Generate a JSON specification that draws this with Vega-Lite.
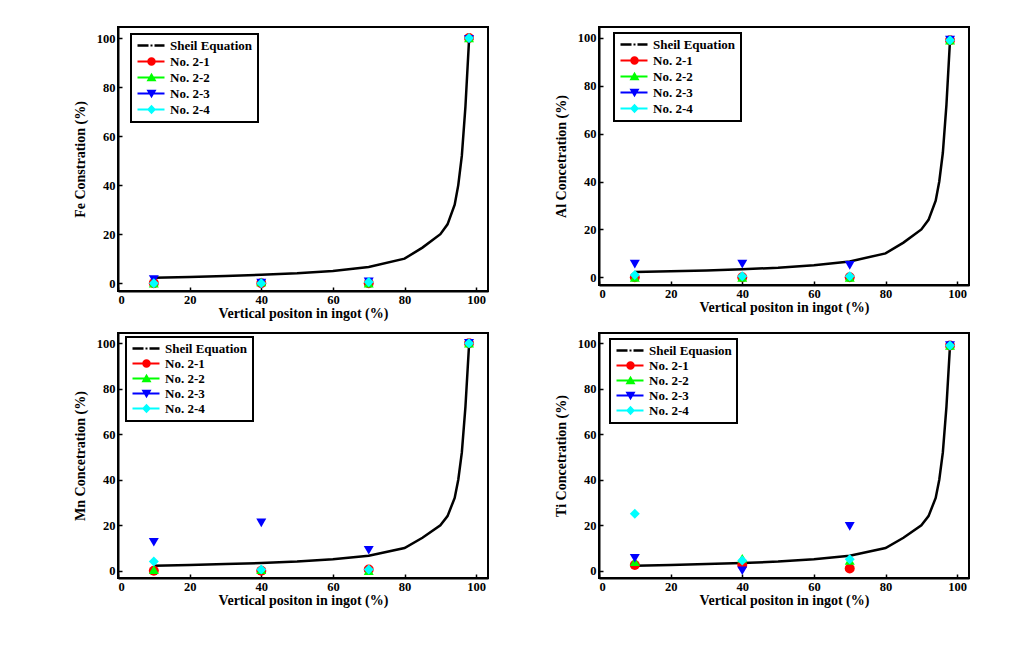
{
  "$schema": "https://vega.github.io/schema/vega-lite/v6.json",
  "background": "white",
  "padding": {"left": 72, "top": 26, "right": 5, "bottom": 5},
  "datasets": {
    "curve": [
      {"series": "Sheil Equation", "x": 10, "y": 2.2},
      {"series": "Sheil Equation", "x": 20, "y": 2.5},
      {"series": "Sheil Equation", "x": 30, "y": 2.9},
      {"series": "Sheil Equation", "x": 40, "y": 3.4},
      {"series": "Sheil Equation", "x": 50, "y": 4.0},
      {"series": "Sheil Equation", "x": 60, "y": 5.0},
      {"series": "Sheil Equation", "x": 70, "y": 6.6},
      {"series": "Sheil Equation", "x": 80, "y": 10},
      {"series": "Sheil Equation", "x": 85, "y": 14.5},
      {"series": "Sheil Equation", "x": 90, "y": 20},
      {"series": "Sheil Equation", "x": 92, "y": 24},
      {"series": "Sheil Equation", "x": 94, "y": 32},
      {"series": "Sheil Equation", "x": 95, "y": 40},
      {"series": "Sheil Equation", "x": 96, "y": 52},
      {"series": "Sheil Equation", "x": 97, "y": 72},
      {"series": "Sheil Equation", "x": 98, "y": 99}
    ],
    "pts": [
      {"el": "Fe", "series": "No. 2-1", "x": 10, "y": 0},
      {"el": "Fe", "series": "No. 2-1", "x": 40, "y": 0},
      {"el": "Fe", "series": "No. 2-1", "x": 70, "y": 0},
      {"el": "Fe", "series": "No. 2-1", "x": 98, "y": 100},
      {"el": "Fe", "series": "No. 2-2", "x": 10, "y": 0},
      {"el": "Fe", "series": "No. 2-2", "x": 40, "y": 0.5},
      {"el": "Fe", "series": "No. 2-2", "x": 70, "y": 0},
      {"el": "Fe", "series": "No. 2-2", "x": 98, "y": 100},
      {"el": "Fe", "series": "No. 2-3", "x": 10, "y": 1.5},
      {"el": "Fe", "series": "No. 2-3", "x": 40, "y": 0},
      {"el": "Fe", "series": "No. 2-3", "x": 70, "y": 0.5},
      {"el": "Fe", "series": "No. 2-3", "x": 98, "y": 99.5},
      {"el": "Fe", "series": "No. 2-4", "x": 10, "y": 0},
      {"el": "Fe", "series": "No. 2-4", "x": 40, "y": 0},
      {"el": "Fe", "series": "No. 2-4", "x": 70, "y": 0.5},
      {"el": "Fe", "series": "No. 2-4", "x": 98, "y": 100},
      {"el": "Al", "series": "No. 2-1", "x": 10, "y": 0},
      {"el": "Al", "series": "No. 2-1", "x": 40, "y": 0},
      {"el": "Al", "series": "No. 2-1", "x": 70, "y": 0},
      {"el": "Al", "series": "No. 2-1", "x": 98, "y": 99},
      {"el": "Al", "series": "No. 2-2", "x": 10, "y": 0},
      {"el": "Al", "series": "No. 2-2", "x": 40, "y": 0},
      {"el": "Al", "series": "No. 2-2", "x": 70, "y": 0},
      {"el": "Al", "series": "No. 2-2", "x": 98, "y": 99},
      {"el": "Al", "series": "No. 2-3", "x": 10, "y": 5.5},
      {"el": "Al", "series": "No. 2-3", "x": 40, "y": 5.5},
      {"el": "Al", "series": "No. 2-3", "x": 70, "y": 5},
      {"el": "Al", "series": "No. 2-3", "x": 98, "y": 99},
      {"el": "Al", "series": "No. 2-4", "x": 10, "y": 1},
      {"el": "Al", "series": "No. 2-4", "x": 40, "y": 0.5},
      {"el": "Al", "series": "No. 2-4", "x": 70, "y": 0.5},
      {"el": "Al", "series": "No. 2-4", "x": 98, "y": 99},
      {"el": "Mn", "series": "No. 2-1", "x": 10, "y": 0},
      {"el": "Mn", "series": "No. 2-1", "x": 40, "y": 0},
      {"el": "Mn", "series": "No. 2-1", "x": 70, "y": 0.5},
      {"el": "Mn", "series": "No. 2-1", "x": 98, "y": 100},
      {"el": "Mn", "series": "No. 2-2", "x": 10, "y": 0.5},
      {"el": "Mn", "series": "No. 2-2", "x": 40, "y": 0.5},
      {"el": "Mn", "series": "No. 2-2", "x": 70, "y": 0},
      {"el": "Mn", "series": "No. 2-2", "x": 98, "y": 100},
      {"el": "Mn", "series": "No. 2-3", "x": 10, "y": 12.5},
      {"el": "Mn", "series": "No. 2-3", "x": 40, "y": 21},
      {"el": "Mn", "series": "No. 2-3", "x": 70, "y": 9},
      {"el": "Mn", "series": "No. 2-3", "x": 98, "y": 100},
      {"el": "Mn", "series": "No. 2-4", "x": 10, "y": 4},
      {"el": "Mn", "series": "No. 2-4", "x": 40, "y": 0.5},
      {"el": "Mn", "series": "No. 2-4", "x": 70, "y": 0.5},
      {"el": "Mn", "series": "No. 2-4", "x": 98, "y": 100},
      {"el": "Ti", "series": "No. 2-1", "x": 10, "y": 2.5},
      {"el": "Ti", "series": "No. 2-1", "x": 40, "y": 2.5},
      {"el": "Ti", "series": "No. 2-1", "x": 70, "y": 1},
      {"el": "Ti", "series": "No. 2-1", "x": 98, "y": 99},
      {"el": "Ti", "series": "No. 2-2", "x": 10, "y": 4},
      {"el": "Ti", "series": "No. 2-2", "x": 40, "y": 5.5},
      {"el": "Ti", "series": "No. 2-2", "x": 70, "y": 4.5},
      {"el": "Ti", "series": "No. 2-2", "x": 98, "y": 99},
      {"el": "Ti", "series": "No. 2-3", "x": 10, "y": 5.5},
      {"el": "Ti", "series": "No. 2-3", "x": 40, "y": 0},
      {"el": "Ti", "series": "No. 2-3", "x": 70, "y": 19.5},
      {"el": "Ti", "series": "No. 2-3", "x": 98, "y": 99},
      {"el": "Ti", "series": "No. 2-4", "x": 10, "y": 25},
      {"el": "Ti", "series": "No. 2-4", "x": 40, "y": 4.5},
      {"el": "Ti", "series": "No. 2-4", "x": 70, "y": 5},
      {"el": "Ti", "series": "No. 2-4", "x": 98, "y": 99}
    ]
  },
  "columns": 2,
  "spacing": {"row": 10, "column": 64},
  "resolve": {"scale": {"color": "independent", "x": "independent", "y": "independent"}, "legend": {"color": "independent"}},
  "concat": [
    {
      "width": 370, "height": 264,
      "layer": [
        {"data": {"name": "curve"}, "mark": {"type": "line", "strokeWidth": 2.5, "color": "black"},
         "encoding": {
           "x": {"field": "x", "type": "quantitative", "scale": {"domain": [0, 103.3], "nice": false}, "axis": {"values": [0,10,20,30,40,50,60,70,80,90,100], "labelExpr": "datum.value % 20 === 0 ? datum.label : ''", "title": "Vertical positon in ingot (%)"}},
           "y": {"field": "y", "type": "quantitative", "scale": {"domain": [-3.2, 104.5], "nice": false}, "axis": {"values": [0,10,20,30,40,50,60,70,80,90,100], "labelExpr": "datum.value % 20 === 0 ? datum.label : ''", "title": "Fe Constration (%)"}},
           "color": {"field": "series", "type": "nominal", "scale": {"domain": ["Sheil Equation", "No. 2-1", "No. 2-2", "No. 2-3", "No. 2-4"], "range": ["black", "#ff0000", "#00ff00", "#0000ff", "#00ffff"]},
             "legend": {"orient": "none", "legendX": 13, "legendY": 7, "title": null, "symbolSize": 100, "labelOffset": 21, "rowPadding": 2, "padding": 5, "labelFont": "Liberation Serif", "labelFontWeight": "bold", "labelFontSize": 13, "labelColor": "black", "strokeColor": "black", "fillColor": "white",
               "encode": {"symbols": {"update": {
                 "shape": {"signal": "datum.value === 'No. 2-1' ? 'M-1,-0.2H4.4V0.2H-1Z M2.65,0A0.85,0.85 0 1,1 0.95,0A0.85,0.85 0 1,1 2.65,0Z' : datum.value === 'No. 2-2' ? 'M-1,-0.2H4.4V0.2H-1Z M1.8,-0.95L2.8,0.75L0.8,0.75Z' : datum.value === 'No. 2-3' ? 'M-1,-0.2H4.4V0.2H-1Z M0.8,-0.75L2.8,-0.75L1.8,0.95Z' : datum.value === 'No. 2-4' ? 'M-1,-0.2H4.4V0.2H-1Z M1.8,-0.95L2.7,0L1.8,0.95L0.9,0Z' : 'M-1,-0.25H1.2V0.25H-1Z M1.6,-0.2H2.0V0.2H1.6Z M2.4,-0.25H4.4V0.25H2.4Z'"},
                 "fill": {"signal": "datum.value === 'No. 2-1' ? '#ff0000' : datum.value === 'No. 2-2' ? '#00ff00' : datum.value === 'No. 2-3' ? '#0000ff' : datum.value === 'No. 2-4' ? '#00ffff' : 'black'"},
                 "strokeWidth": {"value": 0}, "opacity": {"value": 1}}},
                 "legend": {"update": {"strokeWidth": {"value": 2}}}}}}
         }},
        {"data": {"name": "pts"}, "transform": [{"filter": "datum.el === 'Fe'"}],
         "mark": {"type": "point", "filled": true, "opacity": 1, "size": 100, "shape": {"expr": "datum.series === 'No. 2-2' ? 'triangle-up' : datum.series === 'No. 2-3' ? 'triangle-down' : datum.series === 'No. 2-4' ? 'diamond' : 'circle'"}},
         "encoding": {
           "x": {"field": "x", "type": "quantitative"},
           "y": {"field": "y", "type": "quantitative"},
           "color": {"field": "series", "type": "nominal"}
         }}
      ]
    },
    {
      "width": 370, "height": 258,
      "layer": [
        {"data": {"name": "curve"}, "mark": {"type": "line", "strokeWidth": 2.5, "color": "black"},
         "encoding": {
           "x": {"field": "x", "type": "quantitative", "scale": {"domain": [0, 103.3], "nice": false}, "axis": {"values": [0,10,20,30,40,50,60,70,80,90,100], "labelExpr": "datum.value % 20 === 0 ? datum.label : ''", "title": "Vertical positon in ingot (%)"}},
           "y": {"field": "y", "type": "quantitative", "scale": {"domain": [-3.2, 104.5], "nice": false}, "axis": {"values": [0,10,20,30,40,50,60,70,80,90,100], "labelExpr": "datum.value % 20 === 0 ? datum.label : ''", "title": "Al Concetration (%)"}},
           "color": {"field": "series", "type": "nominal", "scale": {"domain": ["Sheil Equation", "No. 2-1", "No. 2-2", "No. 2-3", "No. 2-4"], "range": ["black", "#ff0000", "#00ff00", "#0000ff", "#00ffff"]},
             "legend": {"orient": "none", "legendX": 15, "legendY": 6, "title": null, "symbolSize": 100, "labelOffset": 21, "rowPadding": 2, "padding": 5, "labelFont": "Liberation Serif", "labelFontWeight": "bold", "labelFontSize": 13, "labelColor": "black", "strokeColor": "black", "fillColor": "white",
               "encode": {"symbols": {"update": {
                 "shape": {"signal": "datum.value === 'No. 2-1' ? 'M-1,-0.2H4.4V0.2H-1Z M2.65,0A0.85,0.85 0 1,1 0.95,0A0.85,0.85 0 1,1 2.65,0Z' : datum.value === 'No. 2-2' ? 'M-1,-0.2H4.4V0.2H-1Z M1.8,-0.95L2.8,0.75L0.8,0.75Z' : datum.value === 'No. 2-3' ? 'M-1,-0.2H4.4V0.2H-1Z M0.8,-0.75L2.8,-0.75L1.8,0.95Z' : datum.value === 'No. 2-4' ? 'M-1,-0.2H4.4V0.2H-1Z M1.8,-0.95L2.7,0L1.8,0.95L0.9,0Z' : 'M-1,-0.25H1.2V0.25H-1Z M1.6,-0.2H2.0V0.2H1.6Z M2.4,-0.25H4.4V0.25H2.4Z'"},
                 "fill": {"signal": "datum.value === 'No. 2-1' ? '#ff0000' : datum.value === 'No. 2-2' ? '#00ff00' : datum.value === 'No. 2-3' ? '#0000ff' : datum.value === 'No. 2-4' ? '#00ffff' : 'black'"},
                 "strokeWidth": {"value": 0}, "opacity": {"value": 1}}},
                 "legend": {"update": {"strokeWidth": {"value": 2}}}}}}
         }},
        {"data": {"name": "pts"}, "transform": [{"filter": "datum.el === 'Al'"}],
         "mark": {"type": "point", "filled": true, "opacity": 1, "size": 100, "shape": {"expr": "datum.series === 'No. 2-2' ? 'triangle-up' : datum.series === 'No. 2-3' ? 'triangle-down' : datum.series === 'No. 2-4' ? 'diamond' : 'circle'"}},
         "encoding": {
           "x": {"field": "x", "type": "quantitative"},
           "y": {"field": "y", "type": "quantitative"},
           "color": {"field": "series", "type": "nominal"}
         }}
      ]
    },
    {
      "width": 370, "height": 245,
      "layer": [
        {"data": {"name": "curve"}, "mark": {"type": "line", "strokeWidth": 2.5, "color": "black"},
         "encoding": {
           "x": {"field": "x", "type": "quantitative", "scale": {"domain": [0, 103.3], "nice": false}, "axis": {"values": [0,10,20,30,40,50,60,70,80,90,100], "labelExpr": "datum.value % 20 === 0 ? datum.label : ''", "title": "Vertical positon in ingot (%)"}},
           "y": {"field": "y", "type": "quantitative", "scale": {"domain": [-3.2, 104.5], "nice": false}, "axis": {"values": [0,10,20,30,40,50,60,70,80,90,100], "labelExpr": "datum.value % 20 === 0 ? datum.label : ''", "title": "Mn Concetration (%)"}},
           "color": {"field": "series", "type": "nominal", "scale": {"domain": ["Sheil Equation", "No. 2-1", "No. 2-2", "No. 2-3", "No. 2-4"], "range": ["black", "#ff0000", "#00ff00", "#0000ff", "#00ffff"]},
             "legend": {"orient": "none", "legendX": 8, "legendY": 4, "title": null, "symbolSize": 100, "labelOffset": 21, "rowPadding": 1, "padding": 5, "labelFont": "Liberation Serif", "labelFontWeight": "bold", "labelFontSize": 13, "labelColor": "black", "strokeColor": "black", "fillColor": "white",
               "encode": {"symbols": {"update": {
                 "shape": {"signal": "datum.value === 'No. 2-1' ? 'M-1,-0.2H4.4V0.2H-1Z M2.65,0A0.85,0.85 0 1,1 0.95,0A0.85,0.85 0 1,1 2.65,0Z' : datum.value === 'No. 2-2' ? 'M-1,-0.2H4.4V0.2H-1Z M1.8,-0.95L2.8,0.75L0.8,0.75Z' : datum.value === 'No. 2-3' ? 'M-1,-0.2H4.4V0.2H-1Z M0.8,-0.75L2.8,-0.75L1.8,0.95Z' : datum.value === 'No. 2-4' ? 'M-1,-0.2H4.4V0.2H-1Z M1.8,-0.95L2.7,0L1.8,0.95L0.9,0Z' : 'M-1,-0.25H1.2V0.25H-1Z M1.6,-0.2H2.0V0.2H1.6Z M2.4,-0.25H4.4V0.25H2.4Z'"},
                 "fill": {"signal": "datum.value === 'No. 2-1' ? '#ff0000' : datum.value === 'No. 2-2' ? '#00ff00' : datum.value === 'No. 2-3' ? '#0000ff' : datum.value === 'No. 2-4' ? '#00ffff' : 'black'"},
                 "strokeWidth": {"value": 0}, "opacity": {"value": 1}}},
                 "legend": {"update": {"strokeWidth": {"value": 2}}}}}}
         }},
        {"data": {"name": "pts"}, "transform": [{"filter": "datum.el === 'Mn'"}],
         "mark": {"type": "point", "filled": true, "opacity": 1, "size": 100, "shape": {"expr": "datum.series === 'No. 2-2' ? 'triangle-up' : datum.series === 'No. 2-3' ? 'triangle-down' : datum.series === 'No. 2-4' ? 'diamond' : 'circle'"}},
         "encoding": {
           "x": {"field": "x", "type": "quantitative"},
           "y": {"field": "y", "type": "quantitative"},
           "color": {"field": "series", "type": "nominal"}
         }}
      ]
    },
    {
      "width": 370, "height": 245,
      "layer": [
        {"data": {"name": "curve"}, "mark": {"type": "line", "strokeWidth": 2.5, "color": "black"},
         "encoding": {
           "x": {"field": "x", "type": "quantitative", "scale": {"domain": [0, 103.3], "nice": false}, "axis": {"values": [0,10,20,30,40,50,60,70,80,90,100], "labelExpr": "datum.value % 20 === 0 ? datum.label : ''", "title": "Vertical positon in ingot (%)"}},
           "y": {"field": "y", "type": "quantitative", "scale": {"domain": [-3.2, 104.5], "nice": false}, "axis": {"values": [0,10,20,30,40,50,60,70,80,90,100], "labelExpr": "datum.value % 20 === 0 ? datum.label : ''", "title": "Ti Concetration (%)"}},
           "color": {"field": "series", "type": "nominal", "scale": {"domain": ["Sheil Equation", "No. 2-1", "No. 2-2", "No. 2-3", "No. 2-4"], "range": ["black", "#ff0000", "#00ff00", "#0000ff", "#00ffff"]},
             "legend": {"orient": "none", "legendX": 11, "legendY": 6, "title": null, "symbolSize": 100, "labelOffset": 21, "rowPadding": 1, "padding": 5, "labelFont": "Liberation Serif", "labelFontWeight": "bold", "labelFontSize": 13, "labelColor": "black", "strokeColor": "black", "fillColor": "white",
               "labelExpr": "datum.label === 'Sheil Equation' ? 'Sheil Equasion' : datum.label",
               "encode": {"symbols": {"update": {
                 "shape": {"signal": "datum.value === 'No. 2-1' ? 'M-1,-0.2H4.4V0.2H-1Z M2.65,0A0.85,0.85 0 1,1 0.95,0A0.85,0.85 0 1,1 2.65,0Z' : datum.value === 'No. 2-2' ? 'M-1,-0.2H4.4V0.2H-1Z M1.8,-0.95L2.8,0.75L0.8,0.75Z' : datum.value === 'No. 2-3' ? 'M-1,-0.2H4.4V0.2H-1Z M0.8,-0.75L2.8,-0.75L1.8,0.95Z' : datum.value === 'No. 2-4' ? 'M-1,-0.2H4.4V0.2H-1Z M1.8,-0.95L2.7,0L1.8,0.95L0.9,0Z' : 'M-1,-0.25H1.2V0.25H-1Z M1.6,-0.2H2.0V0.2H1.6Z M2.4,-0.25H4.4V0.25H2.4Z'"},
                 "fill": {"signal": "datum.value === 'No. 2-1' ? '#ff0000' : datum.value === 'No. 2-2' ? '#00ff00' : datum.value === 'No. 2-3' ? '#0000ff' : datum.value === 'No. 2-4' ? '#00ffff' : 'black'"},
                 "strokeWidth": {"value": 0}, "opacity": {"value": 1}}},
                 "legend": {"update": {"strokeWidth": {"value": 2}}}}}}
         }},
        {"data": {"name": "pts"}, "transform": [{"filter": "datum.el === 'Ti'"}],
         "mark": {"type": "point", "filled": true, "opacity": 1, "size": 100, "shape": {"expr": "datum.series === 'No. 2-2' ? 'triangle-up' : datum.series === 'No. 2-3' ? 'triangle-down' : datum.series === 'No. 2-4' ? 'diamond' : 'circle'"}},
         "encoding": {
           "x": {"field": "x", "type": "quantitative"},
           "y": {"field": "y", "type": "quantitative"},
           "color": {"field": "series", "type": "nominal"}
         }}
      ]
    }
  ],
  "config": {
    "view": {"stroke": "black", "strokeWidth": 2},
    "axis": {"labelFont": "Liberation Serif", "labelFontWeight": "bold", "labelFontSize": 12.5, "labelColor": "black", "titleFont": "Liberation Serif", "titleFontWeight": "bold", "titleFontSize": 14, "titleColor": "black", "tickSize": -4, "tickColor": "black", "tickWidth": 1.5, "domainColor": "black", "domainWidth": 2, "grid": false},
    "axisY": {"labelPadding": 7, "titlePadding": 9},
    "axisX": {"labelPadding": 6, "titlePadding": 1}
  }
}
